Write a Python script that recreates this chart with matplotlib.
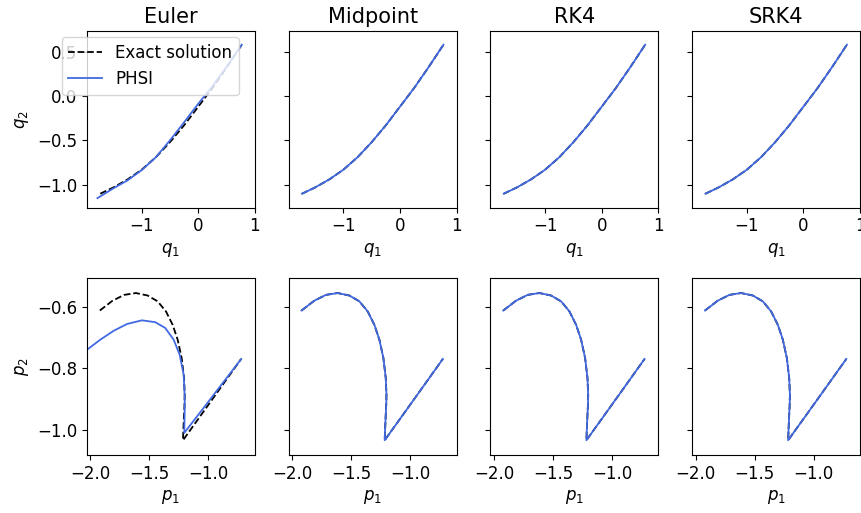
import numpy as np
import matplotlib
matplotlib.use("Agg")
import matplotlib.pyplot as plt

plt.rcParams["font.size"] = 12

methods = ["Euler", "Midpoint", "RK4", "SRK4"]

# exact solution, position (q1, q2)
q1_exact = [-1.73, -1.5, -1.25, -1.0, -0.75, -0.5, -0.25, 0.0, 0.25, 0.5, 0.77]
q2_exact = [-1.10, -1.03, -0.94, -0.83, -0.69, -0.52, -0.33, -0.12, 0.09, 0.32, 0.58]

# exact solution, momentum (p1, p2)
p1_exact = [-1.921, -1.813, -1.714, -1.615, -1.516, -1.431, -1.360, -1.303, -1.261,
            -1.227, -1.207, -1.201, -1.203, -1.207, -1.212, -1.216, -1.05, -0.89, -0.723]
p2_exact = [-0.612, -0.580, -0.561, -0.555, -0.563, -0.582, -0.615, -0.659, -0.707,
            -0.767, -0.832, -0.887, -0.920, -0.952, -0.995, -1.035, -0.946, -0.860, -0.770]

# PHSI with Euler integrator (visibly off)
q1_euler = [-1.78, -1.5, -1.25, -1.0, -0.75, -0.5, -0.25, 0.0, 0.25, 0.5, 0.77]
q2_euler = [-1.15, -1.04, -0.95, -0.835, -0.69, -0.50, -0.296, -0.087, 0.11, 0.33, 0.58]
p1_euler = [-2.030, -1.917, -1.803, -1.691, -1.564, -1.451, -1.366, -1.295, -1.244,
            -1.210, -1.202, -1.201, -1.202, -1.205, -1.05, -0.89, -0.722]
p2_euler = [-0.740, -0.707, -0.678, -0.656, -0.644, -0.650, -0.669, -0.707, -0.756,
            -0.821, -0.887, -0.920, -0.952, -1.011, -0.934, -0.854, -0.770]

# the other integrators sit on top of the exact solution
phsi_q = {"Euler": (q1_euler, q2_euler)}
phsi_p = {"Euler": (p1_euler, p2_euler)}
for m in methods[1:]:
    phsi_q[m] = (q1_exact, q2_exact)
    phsi_p[m] = (p1_exact, p2_exact)

fig, axes = plt.subplots(2, 4, figsize=(8.61, 5.13), dpi=100, sharey="row")
fig.subplots_adjust(left=0.101, right=0.9988, top=0.9396, bottom=0.1131,
                    wspace=0.202, hspace=0.40)

for j, m in enumerate(methods):
    ax = axes[0, j]
    ax.plot(q1_exact, q2_exact, "k--", lw=1.3, label="Exact solution")
    ax.plot(*phsi_q[m], color="royalblue", lw=1.3, label="PHSI")
    ax.set_title(m, fontsize=15)
    ax.set_xlabel("$q_1$")
    ax.set_xlim(-1.965, 1.0)
    ax.set_ylim(-1.257, 0.734)
    ax.set_xticks([-1, 0, 1])
    ax.set_yticks([-1.0, -0.5, 0.0, 0.5])

    ax = axes[1, j]
    ax.plot(p1_exact, p2_exact, "k--", lw=1.3)
    ax.plot(*phsi_p[m], color="royalblue", lw=1.3)
    ax.set_xlabel("$p_1$")
    ax.set_xlim(-2.03, -0.607)
    ax.set_ylim(-1.083, -0.507)
    ax.set_xticks([-2.0, -1.5, -1.0])
    ax.set_yticks([-1.0, -0.8, -0.6])

axes[0, 0].set_ylabel("$q_2$")
axes[1, 0].set_ylabel("$p_2$")
axes[0, 0].legend(loc="upper left", bbox_to_anchor=(-0.15, 0.965), borderaxespad=0)

fig.savefig("out.png", dpi=100)
